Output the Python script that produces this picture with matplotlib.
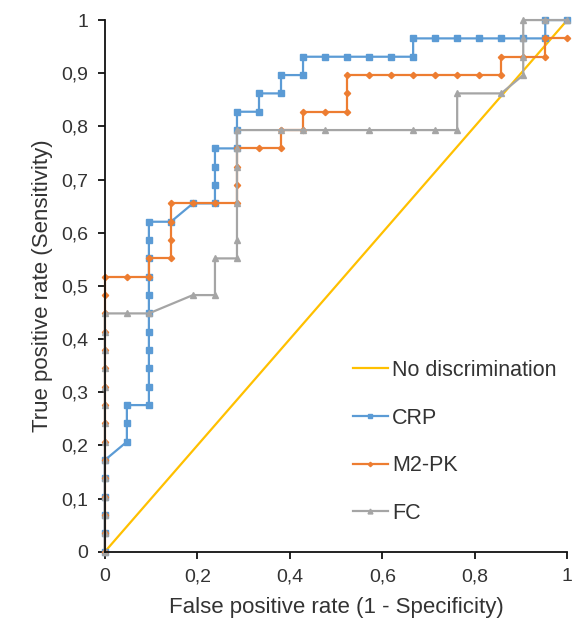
import matplotlib.pyplot as plt
from matplotlib.ticker import FuncFormatter

plt.rcParams["font.family"] = ["Liberation Sans", "DejaVu Sans"]

n_neg = 21
n_pos = 29

# ROC points as (false positive count, true positive count)
crp_fp = [0, 0, 0, 0, 0, 0, 1, 1, 1,
          2, 2, 2, 2, 2, 2, 2, 2, 2, 2, 2,
          3, 4, 5, 5, 5, 5, 6, 6, 6, 7, 7, 8, 8, 9, 9,
          10, 11, 12, 13, 14, 14, 15, 16, 17, 18, 19, 20, 20, 21]
crp_tp = [0, 1, 2, 3, 4, 5, 6, 7, 8,
          8, 9, 10, 11, 12, 13, 14, 15, 16, 17, 18,
          18, 19, 19, 20, 21, 22, 22, 23, 24, 24, 25, 25, 26, 26, 27,
          27, 27, 27, 27, 27, 28, 28, 28, 28, 28, 28, 28, 29, 29]

m2pk_fp = [0] * 16 + [1, 2, 2, 3, 3, 3, 3, 4, 5, 6, 6, 6, 6, 7, 8, 8, 9, 9,
                      10, 11, 11, 11, 12, 13, 14, 15, 16, 17, 18, 18, 19, 20, 20, 21]
m2pk_tp = list(range(16)) + [15, 15, 16, 16, 17, 18, 19, 19, 19, 19, 20, 21, 22, 22, 22, 23, 23, 24,
                             24, 24, 25, 26, 26, 26, 26, 26, 26, 26, 26, 27, 27, 27, 28, 28]

fc_fp = [0] * 14 + [1, 2, 4, 5, 5, 6, 6, 6, 6, 6, 6,
                    8, 9, 10, 12, 14, 15, 16, 16, 18, 19, 19, 19, 19, 20, 21]
fc_tp = list(range(14)) + [13, 13, 14, 14, 16, 16, 17, 19, 21, 22, 23,
                           23, 23, 23, 23, 23, 23, 23, 25, 25, 26, 27, 28, 29, 29, 29]

diag = [0, 1]

blue = "#5B9BD5"
orange = "#ED7D31"
gray = "#A5A5A5"
yellow = "#FFC000"
text_c = "#333333"

fig = plt.figure(figsize=(5.73, 6.27), dpi=100)
ax = fig.add_axes([0.183, 0.12, 0.807, 0.848])

ax.plot(diag, diag, color=yellow, linewidth=1.6, label="No discrimination")
ax.plot([x / n_neg for x in crp_fp], [y / n_pos for y in crp_tp],
        color=blue, linewidth=1.6, marker="s", markersize=4.5, label="CRP", clip_on=False)
ax.plot([x / n_neg for x in m2pk_fp], [y / n_pos for y in m2pk_tp],
        color=orange, linewidth=1.6, marker="D", markersize=3.2, label="M2-PK", clip_on=False)
ax.plot([x / n_neg for x in fc_fp], [y / n_pos for y in fc_tp],
        color=gray, linewidth=1.6, marker="^", markersize=5, label="FC", clip_on=False)

ax.set_xlim(0, 1)
ax.set_ylim(0, 1)
ax.set_xticks([0, 0.2, 0.4, 0.6, 0.8, 1])
ax.set_yticks([i / 10 for i in range(11)])

fmt = FuncFormatter(lambda v, p: ("%g" % round(v, 1)).replace(".", ","))
ax.xaxis.set_major_formatter(fmt)
ax.yaxis.set_major_formatter(fmt)

for s in ["top", "right"]:
    ax.spines[s].set_visible(False)
for s in ["left", "bottom"]:
    ax.spines[s].set_color("#111111")
    ax.spines[s].set_linewidth(1.3)
ax.tick_params(direction="out", length=5, width=1.3, color="#111111",
               labelsize=14, labelcolor=text_c, pad=7)

ax.set_xlabel("False positive rate (1 - Specificity)", fontsize=16, color=text_c, labelpad=8)
ax.set_ylabel("True positive rate (Sensitivity)", fontsize=16, color=text_c, labelpad=6)

leg = ax.legend(loc="upper left", bbox_to_anchor=(0.517, 0.377), borderaxespad=0,
                frameon=False, fontsize=15.5, labelspacing=1.24, handlelength=1.63,
                handletextpad=0.2, markerscale=0.7)
for t in leg.get_texts():
    t.set_color(text_c)

fig.savefig("out.png", dpi=100)
